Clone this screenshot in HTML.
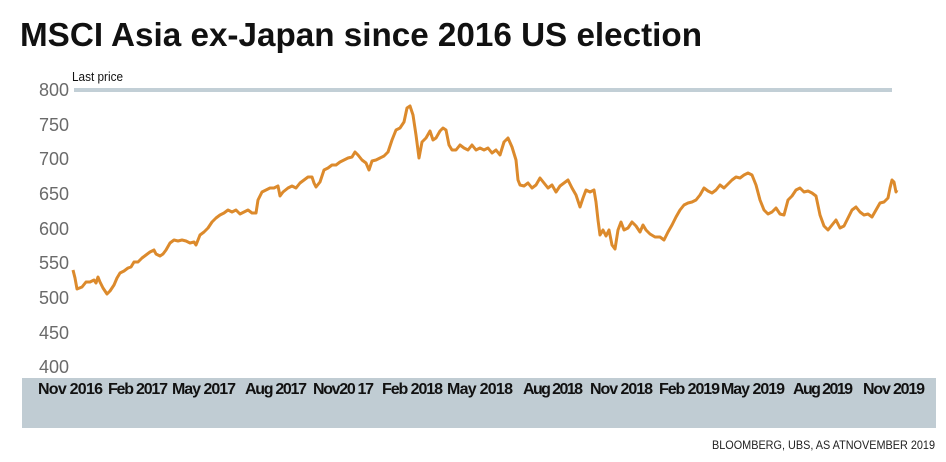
<!DOCTYPE html>
<html><head><meta charset="utf-8"><style>
html,body{margin:0;padding:0;background:#fff;}
svg{display:block;}
</style></head><body>
<svg width="946" height="462" xmlns="http://www.w3.org/2000/svg">
<text x="20" y="46" font-family="Liberation Sans, sans-serif" font-weight="bold" font-size="33" fill="#111" textLength="682" lengthAdjust="spacingAndGlyphs">MSCI Asia ex-Japan since 2016 US election</text>
<text x="72" y="81" font-family="Liberation Sans, sans-serif" font-size="13" fill="#111" textLength="51" lengthAdjust="spacingAndGlyphs">Last price</text>
<rect x="74" y="88" width="818" height="4" fill="#c2cfd6"/>
<g font-family="Liberation Sans, sans-serif" font-size="18" fill="#6a6a6a" text-anchor="end">
<text x="69" y="96">800</text>
<text x="69" y="131">750</text>
<text x="69" y="165">700</text>
<text x="69" y="200">650</text>
<text x="69" y="235">600</text>
<text x="69" y="304">500</text>
<text x="69" y="269">550</text>
<text x="69" y="339">450</text>
<text x="69" y="373">400</text>
</g>
<rect x="22" y="378" width="914" height="50" fill="#c0ccd3"/>
<g font-family="Liberation Sans, sans-serif" font-weight="bold" font-size="16" fill="#111" lengthAdjust="spacingAndGlyphs">
<text x="38" y="394" textLength="65">Nov 2016</text>
<text x="108" y="394" textLength="60">Feb 2017</text>
<text x="172" y="394" textLength="64">May 2017</text>
<text x="245" y="394" textLength="62">Aug 2017</text>
<text x="313" y="394" textLength="61">Nov20 17</text>
<text x="382" y="394" textLength="61">Feb 2018</text>
<text x="447" y="394" textLength="66">May 2018</text>
<text x="523" y="394" textLength="60">Aug 2018</text>
<text x="590" y="394" textLength="63">Nov 2018</text>
<text x="659" y="394" textLength="61">Feb 2019</text>
<text x="721" y="394" textLength="64">May 2019</text>
<text x="793" y="394" textLength="60">Aug 2019</text>
<text x="863" y="394" textLength="62">Nov 2019</text>
</g>
<text x="935" y="449" text-anchor="end" font-family="Liberation Sans, sans-serif" font-size="12" fill="#222" textLength="223" lengthAdjust="spacingAndGlyphs">BLOOMBERG, UBS, AS ATNOVEMBER 2019</text>
<polyline fill="none" stroke="#dc8a2c" stroke-width="3" stroke-linejoin="round" points="73,270 75,278 77,289 82,287 86,282 90,282 94,280 96,283 98,277 100,282 103,288 107,294 110,291 114,285 117,278 120,273 124,271 128,268 131,267 134,262 138,262 142,258 146,255 150,252 154,250 156,254 160,256 163,254 166,250 170,243 174,240 178,241 182,240 186,241 190,243 194,242 196,245 198,240 200,235 204,232 208,228 212,222 216,218 220,215 224,213 228,210 232,212 236,210 240,214 244,212 248,210 252,213 256,213 258,200 262,192 266,190 270,188 274,188 278,186 280,196 283,192 288,188 292,186 296,188 300,183 304,180 308,177 312,177 314,183 316,187 320,182 324,170 328,168 332,165 336,165 340,162 344,160 348,158 352,157 355,152 358,155 362,160 366,163 369,170 372,161 376,160 380,158 384,156 388,152 392,140 396,130 400,128 404,122 407,108 410,106 413,115 416,135 419,158 422,142 426,138 430,131 433,140 436,138 440,131 443,128 446,130 449,145 452,150 456,150 460,145 464,148 468,150 472,145 476,150 480,148 484,150 488,148 492,153 496,150 500,155 504,142 508,138 512,147 516,160 518,180 520,185 524,186 528,183 532,188 536,185 540,178 544,183 548,188 552,185 556,192 560,186 564,183 568,180 572,188 576,195 580,207 583,198 586,190 590,192 594,190 596,202 598,220 600,235 603,230 606,236 609,230 612,245 615,249 618,230 621,222 624,230 628,228 632,222 636,226 640,232 643,225 646,230 650,234 655,237 660,237 664,240 668,232 672,225 676,217 680,210 684,205 688,203 692,202 696,200 700,195 704,188 708,191 712,193 716,190 720,185 724,188 728,184 732,180 736,177 740,178 744,175 748,173 752,175 756,185 760,200 764,210 768,214 772,212 776,208 780,214 784,215 788,200 792,196 796,190 800,188 804,192 808,191 812,193 816,196 820,215 824,226 828,230 832,225 836,220 840,228 844,226 848,218 852,210 856,207 860,212 864,215 868,214 872,217 876,210 880,203 884,202 888,198 890,188 892,180 894,182 896,192 897,190"/>
</svg>
</body></html>
